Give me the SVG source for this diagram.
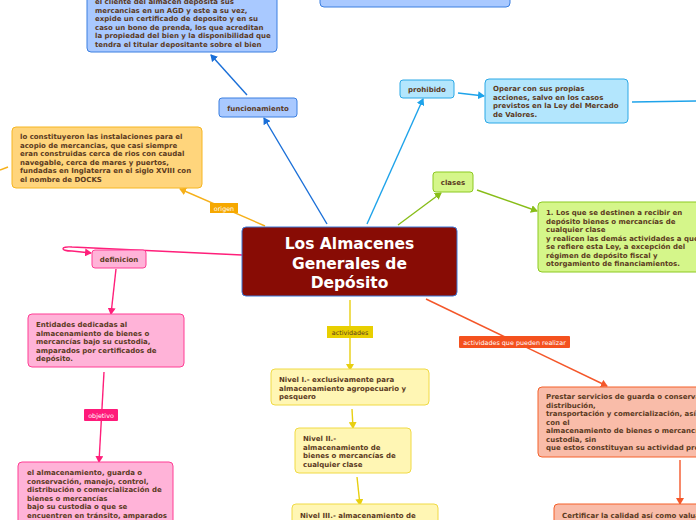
<svg xmlns="http://www.w3.org/2000/svg" width="696" height="520" viewBox="0 0 696 520">
<style>
.t{font-family:"DejaVu Sans",Verdana,sans-serif;font-weight:bold;font-size:7px;fill:#5b3a1e}
.lb{font-family:"DejaVu Sans",Verdana,sans-serif;font-size:6.4px}
.title{font-family:"DejaVu Sans",Verdana,sans-serif;font-weight:bold;font-size:15.5px;fill:#fff}
.blue{fill:#a9c9ff;stroke:#3b7fe0;stroke-width:1}
.cyan{fill:#b3e6fd;stroke:#2aa8e6;stroke-width:1}
.org{fill:#ffd57c;stroke:#f6b622;stroke-width:1}
.grn{fill:#d5f68a;stroke:#8cc920;stroke-width:1}
.pink{fill:#ffb3d8;stroke:#ff3d94;stroke-width:1}
.yel{fill:#fff6b4;stroke:#f0da45;stroke-width:1}
.red{fill:#f9bca9;stroke:#f4602a;stroke-width:1}
.c{fill:none;stroke-width:1.4}
</style>
<defs>
<marker id="mb" markerWidth="8" markerHeight="8" refX="6" refY="4" orient="auto" markerUnits="userSpaceOnUse"><path d="M0,0 L7,4 L0,8 Z" fill="#1a6fd8"/></marker>
<marker id="mc" markerWidth="8" markerHeight="8" refX="6" refY="4" orient="auto" markerUnits="userSpaceOnUse"><path d="M0,0 L7,4 L0,8 Z" fill="#1ea3ea"/></marker>
<marker id="mo" markerWidth="8" markerHeight="8" refX="6" refY="4" orient="auto" markerUnits="userSpaceOnUse"><path d="M0,0 L7,4 L0,8 Z" fill="#f6b01a"/></marker>
<marker id="mg" markerWidth="8" markerHeight="8" refX="6" refY="4" orient="auto" markerUnits="userSpaceOnUse"><path d="M0,0 L7,4 L0,8 Z" fill="#88bd18"/></marker>
<marker id="mp" markerWidth="8" markerHeight="8" refX="6" refY="4" orient="auto" markerUnits="userSpaceOnUse"><path d="M0,0 L7,4 L0,8 Z" fill="#ff1f7a"/></marker>
<marker id="my" markerWidth="8" markerHeight="8" refX="6" refY="4" orient="auto" markerUnits="userSpaceOnUse"><path d="M0,0 L7,4 L0,8 Z" fill="#e8cf10"/></marker>
<marker id="mr" markerWidth="8" markerHeight="8" refX="6" refY="4" orient="auto" markerUnits="userSpaceOnUse"><path d="M0,0 L7,4 L0,8 Z" fill="#f4572a"/></marker>
</defs>

<g id="connectors">
<path class="c" stroke="#1a6fd8" d="M247,95 L211,55" marker-end="url(#mb)"/>
<path class="c" stroke="#1a6fd8" d="M327,224 L264,118" marker-end="url(#mb)"/>
<path class="c" stroke="#1ea3ea" d="M367,224 L423,99" marker-end="url(#mc)"/>
<path class="c" stroke="#1ea3ea" d="M458,93 L484,96" marker-end="url(#mc)"/>
<path class="c" stroke="#1ea3ea" d="M632,102 L696,101"/>
<path class="c" stroke="#f6b01a" d="M265,226 L180,189" marker-end="url(#mo)"/>
<path class="c" stroke="#f6b01a" d="M8,167 L0,170"/>
<path class="c" stroke="#88bd18" d="M398,225 L441,193" marker-end="url(#mg)"/>
<path class="c" stroke="#88bd18" d="M477,190 L537,211" marker-end="url(#mg)"/>
<path class="c" stroke="#ff1f7a" d="M242,255 L72,247 C60,246 60,251 72,251 L91,253" marker-end="url(#mp)"/>
<path class="c" stroke="#ff1f7a" d="M116,269 L111,314" marker-end="url(#mp)"/>
<path class="c" stroke="#ff1f7a" d="M104,372 L99,462" marker-end="url(#mp)"/>
<path class="c" stroke="#e8cf10" d="M350,300 L350,370" marker-end="url(#my)"/>
<path class="c" stroke="#e8cf10" d="M352,409 L353,428" marker-end="url(#my)"/>
<path class="c" stroke="#e8cf10" d="M357,477 L360,505" marker-end="url(#my)"/>
<path class="c" stroke="#f4572a" d="M426,299 L607,386" marker-end="url(#mr)"/>
<path class="c" stroke="#f4572a" d="M680,460 L680,504" marker-end="url(#mr)"/>
<g id="lbl-origen"><rect x="210" y="203" width="28" height="10" fill="#f6a800"/><text class="lb" x="224" y="210.5" text-anchor="middle" fill="#fff">origen</text></g>
<g id="lbl-objetivo"><rect x="84" y="409" width="34" height="12" rx="1" fill="#ff1a7a"/><text class="lb" x="101" y="417.5" text-anchor="middle" fill="#fff">objetivo</text></g>
<g id="lbl-actividades"><rect x="327" y="326" width="46" height="12" fill="#e8cf00"/><text class="lb" x="350" y="334.5" text-anchor="middle" fill="#5b3a1e">actividades</text></g>
<g id="lbl-act-realizar"><rect x="459" y="336" width="111" height="12" rx="1" fill="#f4511e"/><text class="lb" x="514.5" y="344.5" text-anchor="middle" fill="#fff">actividades que pueden realizar</text></g>
</g>

<g id="node-top-left">
<rect class="blue" x="87" y="-20" width="190" height="72" rx="4"/>
<text class="t"><tspan x="95" y="4">el cliente del almacen deposita sus</tspan><tspan x="95" y="12.5">mercancias en un AGD y este a su vez,</tspan><tspan x="95" y="21">expide un certificado de deposito y en su</tspan><tspan x="95" y="29.5">caso un bono de prenda, los que acreditan</tspan><tspan x="95" y="38">la propiedad del bien y la disponibilidad que</tspan><tspan x="95" y="46.5">tendra el titular depositante sobre el bien</tspan></text>
</g>
<g id="node-top-center">
<rect class="blue" x="320" y="-20" width="190" height="27" rx="4"/>
</g>
<g id="node-funcionamiento">
<rect class="blue" x="219" y="98" width="78" height="19" rx="3"/>
<text class="t" x="258" y="110.5" text-anchor="middle">funcionamiento</text>
</g>
<g id="node-prohibido">
<rect class="cyan" x="400" y="80" width="54" height="18" rx="3"/>
<text class="t" x="427" y="91.5" text-anchor="middle">prohibido</text>
</g>
<g id="node-operar">
<rect class="cyan" x="485" y="79" width="143" height="44" rx="4"/>
<text class="t"><tspan x="493" y="91">Operar con sus propias</tspan><tspan x="493" y="99.5">acciones, salvo en los casos</tspan><tspan x="493" y="108">previstos en la Ley del Mercado</tspan><tspan x="493" y="116.5">de Valores.</tspan></text>
</g>
<g id="node-origen">
<rect class="org" x="12" y="127" width="190" height="61" rx="4"/>
<text class="t"><tspan x="20" y="139">lo constituyeron las instalaciones para el</tspan><tspan x="20" y="147.5">acopio de mercancias, que casi siempre</tspan><tspan x="20" y="156">eran construidas cerca de rios con caudal</tspan><tspan x="20" y="164.5">navegable, cerca de mares y puertos,</tspan><tspan x="20" y="173">fundadas en Inglaterra en el siglo XVIII con</tspan><tspan x="20" y="181.5">el nombre de DOCKS</tspan></text>
</g>
<g id="node-clases">
<rect class="grn" x="433" y="172" width="40" height="20" rx="3"/>
<text class="t" x="453" y="184.5" text-anchor="middle">clases</text>
</g>
<g id="node-clase1">
<rect class="grn" x="538" y="202" width="170" height="70" rx="4"/>
<text class="t"><tspan x="546" y="215">1. Los que se destinen a recibir en</tspan><tspan x="546" y="223.5">depósito bienes o mercancías de</tspan><tspan x="546" y="232">cualquier clase</tspan><tspan x="546" y="240.5">y realicen las demás actividades a que</tspan><tspan x="546" y="249">se refiere esta Ley, a excepción del</tspan><tspan x="546" y="257.5">régimen de depósito fiscal y</tspan><tspan x="546" y="266">otorgamiento de financiamientos.</tspan></text>
</g>
<g id="node-center">
<rect x="242" y="227" width="215" height="69" rx="4" fill="#880c05" stroke="#3b78d8" stroke-width="1"/>
<text class="title" text-anchor="middle"><tspan x="349.5" y="249">Los Almacenes</tspan><tspan x="349.5" y="268.5">Generales de</tspan><tspan x="349.5" y="288">Depósito</tspan></text>
</g>
<g id="node-definicion">
<rect class="pink" x="92" y="250" width="54" height="18" rx="3"/>
<text class="t" x="119" y="261.5" text-anchor="middle">definicion</text>
</g>
<g id="node-entidades">
<rect class="pink" x="28" y="314" width="156" height="53" rx="4"/>
<text class="t"><tspan x="36" y="327">Entidades dedicadas al</tspan><tspan x="36" y="335.5">almacenamiento de bienes o</tspan><tspan x="36" y="344">mercancías bajo su custodia,</tspan><tspan x="36" y="352.5">amparados por certificados de</tspan><tspan x="36" y="361">depósito.</tspan></text>
</g>
<g id="node-objetivo">
<rect class="pink" x="18" y="462" width="155" height="70" rx="4"/>
<text class="t"><tspan x="27" y="475">el almacenamiento, guarda o</tspan><tspan x="27" y="483.5">conservación, manejo, control,</tspan><tspan x="27" y="492">distribución o  comercialización de</tspan><tspan x="27" y="500.5">bienes o mercancías</tspan><tspan x="27" y="509">bajo su custodia o que se</tspan><tspan x="27" y="517.5">encuentren en tránsito, amparados</tspan></text>
</g>
<g id="node-nivel1">
<rect class="yel" x="271" y="369" width="158" height="36" rx="4"/>
<text class="t"><tspan x="279" y="382">Nivel I.- exclusivamente para</tspan><tspan x="279" y="390.5">almacenamiento agropecuario y</tspan><tspan x="279" y="399">pesquero</tspan></text>
</g>
<g id="node-nivel2">
<rect class="yel" x="295" y="428" width="116" height="45" rx="4"/>
<text class="t"><tspan x="303" y="441">Nivel II.-</tspan><tspan x="303" y="449.5">almacenamiento de</tspan><tspan x="303" y="458">bienes o mercancías de</tspan><tspan x="303" y="466.5">cualquier clase</tspan></text>
</g>
<g id="node-nivel3">
<rect class="yel" x="292" y="504" width="146" height="30" rx="4"/>
<text class="t" x="300" y="517.5">Nivel III.- almacenamiento de</text>
</g>
<g id="node-prestar">
<rect class="red" x="538" y="387" width="170" height="70" rx="4"/>
<text class="t"><tspan x="546" y="399">Prestar servicios de guarda o conservación,</tspan><tspan x="546" y="407.5">distribución,</tspan><tspan x="546" y="416">transportación y comercialización, así como</tspan><tspan x="546" y="424.5">con el</tspan><tspan x="546" y="433">almacenamiento de bienes o mercancías bajo su</tspan><tspan x="546" y="441.5">custodia, sin</tspan><tspan x="546" y="450">que estos constituyan su actividad preponderante</tspan></text>
</g>
<g id="node-certificar">
<rect class="red" x="554" y="504" width="160" height="30" rx="4"/>
<text class="t" x="562" y="517.5">Certificar la calidad así como valuar</text>
</g>
</svg>
